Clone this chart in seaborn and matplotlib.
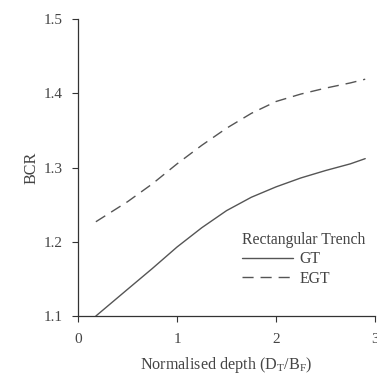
import pandas as pd
import seaborn as sns
import matplotlib.pyplot as plt

depth = [0.18, 0.5, 0.75, 1.0, 1.25, 1.5, 1.75, 2.0, 2.25, 2.5, 2.75, 2.9]
gt = [1.100, 1.136, 1.164, 1.193, 1.219, 1.242, 1.260, 1.274, 1.286, 1.296, 1.305, 1.312]
egt = [1.227, 1.254, 1.278, 1.305, 1.330, 1.353, 1.373, 1.389, 1.399, 1.407, 1.414, 1.419]
series = ['GT', 'EGT']

df = pd.concat([
    pd.DataFrame({'depth': depth, 'BCR': gt, 'method': series[0]}),
    pd.DataFrame({'depth': depth, 'BCR': egt, 'method': series[1]}),
])

sns.set_style('ticks')
plt.rcParams['font.family'] = ['Liberation Serif', 'DejaVu Serif']
grey = '#555555'
txt = '#444444'

fig = plt.figure(figsize=(3.77, 3.74), dpi=100)
ax = fig.add_axes([0.207, 0.155, 0.788, 0.794])
sns.lineplot(data=df, x='depth', y='BCR', style='method', style_order=series,
             dashes={'GT': '', 'EGT': (8, 5)}, color=grey, linewidth=1.0, ax=ax)

ax.set_xlim(0, 3)
ax.set_ylim(1.1, 1.5)
ax.set_xticks([0, 1, 2, 3])
ax.set_yticks([1.1, 1.2, 1.3, 1.4, 1.5])
ax.set_yticklabels(['1.1', '1.2', '1.3', '1.4', '1.5'])
ax.set_xlabel(r'Normalised depth (D$_\mathregular{T}$/B$_\mathregular{F}$)', fontsize=11.6,
              color=txt, labelpad=6.5)
ax.set_ylabel('BCR', fontsize=11.6, color=txt, labelpad=3)
ax.tick_params(labelsize=11, length=4, width=0.8, pad=7, colors='#333333', labelcolor=txt)
ax.tick_params(axis='x', pad=8.5)
sns.despine(ax=ax)
for s in ['left', 'bottom']:
    ax.spines[s].set_color('#333333')
    ax.spines[s].set_linewidth(0.9)

leg = ax.legend(title='Rectangular Trench', frameon=False, fontsize=11.3, title_fontsize=11.3,
                loc='upper left', bbox_to_anchor=(0.552, 0.283), handlelength=3.25,
                handletextpad=0.4, labelspacing=0.22, borderaxespad=0, borderpad=0)
leg._legend_box.align = 'left'
for t in leg.get_texts():
    t.set_color(txt)
leg.get_title().set_color(txt)

fig.savefig('out.png', dpi=100)
